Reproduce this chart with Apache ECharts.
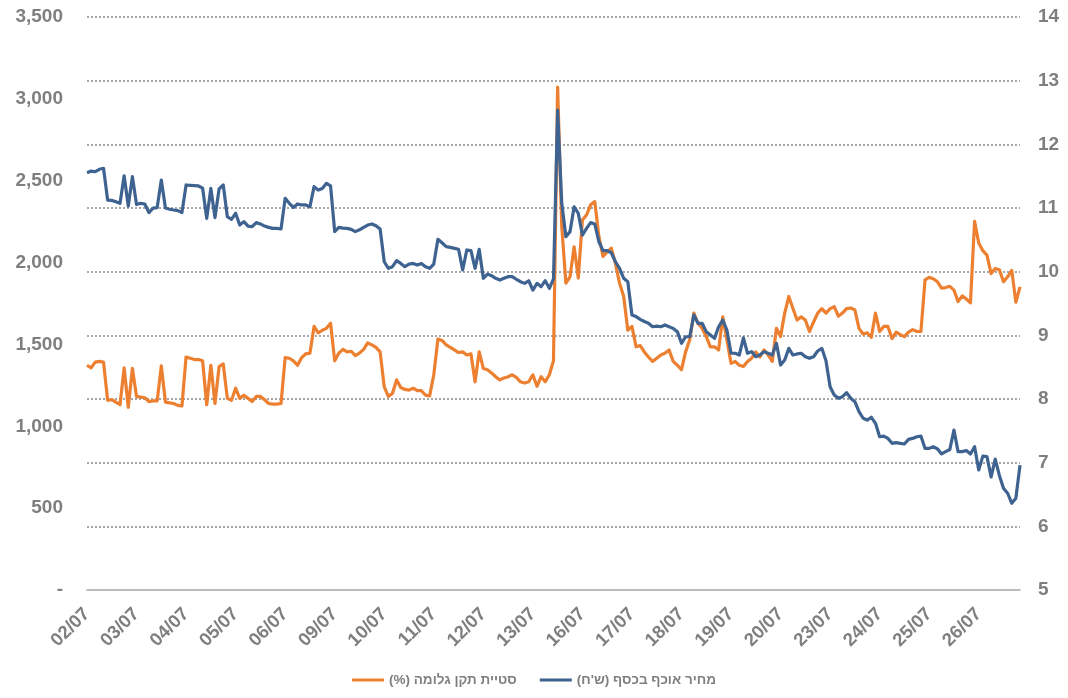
<!DOCTYPE html>
<html>
<head>
<meta charset="utf-8">
<script src="https://cdn.jsdelivr.net/npm/echarts@6/dist/echarts.min.js"></script>
<style>
html,body{margin:0;padding:0;background:#fff;}
#chart{width:1068px;height:698px;}
</style>
</head>
<body>
<div id="chart" dir="rtl"></div>
<script>
// Trading days (x-axis tick labels)
const dayLabels = ['02/07','03/07','04/07','05/07','06/07','09/07','10/07','11/07','12/07','13/07',
  '16/07','17/07','18/07','19/07','20/07','23/07','24/07','25/07','26/07'];

// Implied volatility (%) — right axis, intraday readings per day
const impliedVol = [
  [8.53, 8.49, 8.58, 8.59, 8.58, 7.98, 7.99, 7.95, 7.91, 8.49, 7.87, 8.48],
  [8.04, 8.03, 8.02, 7.96, 7.97, 7.97, 8.52, 7.95, 7.94, 7.93, 7.90, 7.89],
  [8.66, 8.64, 8.62, 8.62, 8.60, 7.91, 8.53, 7.93, 8.51, 8.55, 8.01, 7.98],
  [8.17, 8.01, 8.06, 8.01, 7.96, 8.04, 8.04, 7.99, 7.93, 7.92, 7.92, 7.93],
  [8.65, 8.64, 8.60, 8.53, 8.65, 8.71, 8.72, 9.14, 9.04, 9.08, 9.11, 9.19],
  [8.60, 8.72, 8.78, 8.74, 8.75, 8.68, 8.72, 8.78, 8.88, 8.85, 8.81, 8.74],
  [8.19, 8.04, 8.09, 8.30, 8.18, 8.15, 8.14, 8.17, 8.13, 8.13, 8.06, 8.05],
  [8.38, 8.94, 8.92, 8.85, 8.81, 8.77, 8.73, 8.74, 8.69, 8.71, 8.27, 8.74],
  [8.48, 8.46, 8.41, 8.35, 8.30, 8.33, 8.35, 8.38, 8.34, 8.27, 8.25, 8.27],
  [8.38, 8.20, 8.35, 8.27, 8.38, 8.60, 12.90, 10.71, 9.82, 9.92, 10.39, 9.90],
  [10.81, 10.89, 11.05, 11.10, 10.55, 10.24, 10.31, 10.37, 10.13, 9.82, 9.61, 9.08],
  [9.14, 8.82, 8.84, 8.74, 8.66, 8.59, 8.64, 8.69, 8.72, 8.77, 8.59, 8.53],
  [8.46, 8.74, 8.93, 9.35, 9.19, 9.11, 8.98, 8.82, 8.82, 8.77, 9.29, 8.93],
  [8.56, 8.59, 8.53, 8.51, 8.59, 8.64, 8.74, 8.66, 8.77, 8.69, 8.59, 9.11],
  [8.98, 9.35, 9.61, 9.42, 9.24, 9.29, 9.24, 9.06, 9.21, 9.35, 9.42, 9.35],
  [9.42, 9.45, 9.30, 9.35, 9.42, 9.43, 9.40, 9.11, 9.02, 9.04, 8.97, 9.35],
  [9.06, 9.14, 9.14, 8.95, 9.05, 9.01, 8.98, 9.05, 9.09, 9.06, 9.06, 9.87],
  [9.91, 9.89, 9.84, 9.74, 9.75, 9.77, 9.71, 9.53, 9.62, 9.57, 9.51, 10.79],
  [10.45, 10.33, 10.26, 9.97, 10.05, 10.03, 9.84, 9.92, 10.02, 9.52, 9.76]
];

// At-the-money option price (ILS) — left axis, intraday readings per day
const atmPrice = [
  [2549, 2559, 2555, 2570, 2576, 2382, 2380, 2372, 2362, 2530, 2345, 2525],
  [2355, 2362, 2358, 2305, 2333, 2336, 2504, 2333, 2326, 2321, 2317, 2305],
  [2474, 2472, 2470, 2468, 2455, 2270, 2453, 2275, 2450, 2474, 2280, 2264],
  [2301, 2229, 2250, 2223, 2219, 2244, 2236, 2223, 2215, 2209, 2209, 2205],
  [2392, 2362, 2337, 2358, 2352, 2352, 2341, 2464, 2443, 2453, 2484, 2468],
  [2189, 2215, 2210, 2209, 2203, 2189, 2200, 2215, 2229, 2236, 2225, 2205],
  [2005, 1965, 1975, 2012, 1995, 1975, 1991, 1995, 1985, 1995, 1975, 1965],
  [1991, 2142, 2121, 2097, 2093, 2087, 2081, 1955, 2077, 2073, 1965, 2081],
  [1904, 1930, 1920, 1904, 1893, 1904, 1914, 1914, 1898, 1883, 1873, 1889],
  [1832, 1873, 1853, 1889, 1843, 1900, 2932, 2362, 2158, 2189, 2341, 2301],
  [2168, 2209, 2244, 2236, 2127, 2073, 2073, 2060, 2005, 1965, 1904, 1883],
  [1680, 1670, 1653, 1640, 1629, 1608, 1612, 1608, 1619, 1608, 1598, 1578],
  [1507, 1547, 1547, 1680, 1629, 1629, 1578, 1558, 1537, 1608, 1649, 1588],
  [1446, 1446, 1435, 1540, 1446, 1456, 1425, 1435, 1456, 1446, 1435, 1507],
  [1374, 1405, 1476, 1435, 1442, 1446, 1425, 1415, 1425, 1460, 1476, 1400],
  [1242, 1191, 1171, 1181, 1205, 1171, 1150, 1089, 1049, 1038, 1055, 1018],
  [936, 940, 926, 896, 900, 896, 892, 920, 926, 936, 940, 865],
  [865, 875, 862, 831, 845, 858, 977, 845, 845, 852, 831, 875],
  [733, 818, 815, 690, 800, 700, 621, 591, 530, 560, 763]
];

const seriesNames = ['סטיית תקן גלומה (%)', "מחיר אוכף בכסף (ש'ח)"];

// Build category axis: one category per intraday reading, tagged with its day
const categories = [];
dayLabels.forEach((d, i) => {
  impliedVol[i].forEach((_, j) => categories.push(j === 0 ? d : d + '#' + j));
});
const volData = impliedVol.flat();
const priceData = atmPrice.flat();

const grey = '#7f7f7f';
const font = "'Liberation Sans', Arial, sans-serif";

const chart = echarts.init(document.getElementById('chart'), null, {renderer: 'canvas'});
chart.setOption({
  animation: false,
  backgroundColor: '#fff',
  grid: {left: 87, right: 48, top: 17, bottom: 108, containLabel: false},
  legend: {
    data: seriesNames,
    left: 'center',
    top: 668,
    icon: 'rect',
    itemWidth: 32,
    itemHeight: 3,
    itemGap: 23,
    textStyle: {color: grey, fontSize: 13.5, fontWeight: 'bold', fontFamily: font}
  },
  xAxis: {
    type: 'category',
    data: categories,
    boundaryGap: false,
    axisLine: {lineStyle: {color: '#a6a6a6', width: 1.5}},
    axisTick: {show: false},
    splitLine: {show: false},
    axisLabel: {
      rotate: 45,
      margin: 21,
      color: grey,
      fontSize: 18.5,
      fontWeight: 'bold',
      fontFamily: font,
      interval: (idx, val) => val.indexOf('#') < 0,
      formatter: v => v.split('#')[0]
    }
  },
  yAxis: [
    {
      type: 'value',
      position: 'left',
      min: 0, max: 3500, interval: 500,
      axisLine: {show: false},
      axisTick: {show: false},
      splitLine: {show: false},
      axisLabel: {
        margin: 24,
        color: grey,
        fontSize: 19,
        fontWeight: 'bold',
        fontFamily: font,
        formatter: v => v === 0 ? '-' : v.toLocaleString('en-US')
      }
    },
    {
      type: 'value',
      position: 'right',
      min: 5, max: 14, interval: 1,
      axisLine: {show: false},
      axisTick: {show: false},
      splitLine: {show: true, showMinLine: false, lineStyle: {color: '#a6a6a6', width: 2, type: [2, 2]}},
      axisLabel: {
        margin: 18,
        color: grey,
        fontSize: 19,
        fontWeight: 'bold',
        fontFamily: font
      }
    }
  ],
  series: [
    {
      name: seriesNames[0],
      type: 'line',
      yAxisIndex: 1,
      data: volData,
      showSymbol: false,
      symbol: 'none',
      color: '#EC8030',
      lineStyle: {width: 3.2, color: '#EC8030', join: 'round'}
    },
    {
      name: seriesNames[1],
      type: 'line',
      yAxisIndex: 0,
      data: priceData,
      showSymbol: false,
      symbol: 'none',
      color: '#3F6391',
      lineStyle: {width: 3.2, color: '#3F6391', join: 'round'}
    }
  ]
});
</script>
</body>
</html>
